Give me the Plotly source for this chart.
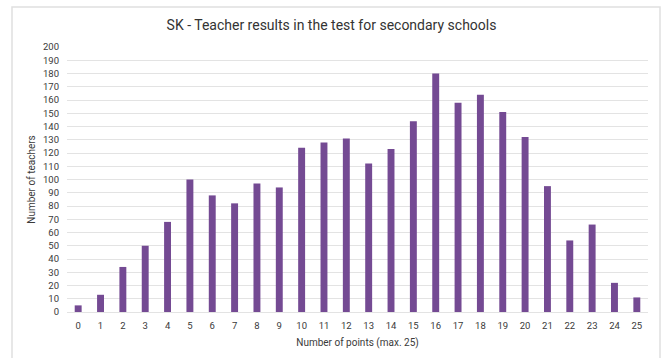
import plotly.graph_objects as go

# Points achieved (0-25) and number of teachers per score
points = [str(i) for i in range(26)]
teachers = [5, 13, 34, 50, 68, 100, 88, 82, 97, 94, 124, 128, 131, 112, 123,
            144, 180, 158, 164, 151, 132, 95, 54, 66, 22, 11]
y_ticks = list(range(0, 201, 10))

W, H = 663, 358
FONT = "Roboto"
TXT = "#3a3a3a"

fig = go.Figure(
    go.Bar(
        x=points,
        y=teachers,
        marker=dict(color="#744A93", line=dict(width=0)),
        hoverinfo="x+y",
    )
)

fig.update_layout(
    width=W,
    height=H,
    margin=dict(l=67, r=15, t=47, b=46),
    paper_bgcolor="white",
    plot_bgcolor="white",
    bargap=0.69,
    showlegend=False,
    font=dict(family=FONT, size=9, color=TXT),
    title=dict(
        text="SK - Teacher results in the test for secondary schools",
        x=0.5,
        xref="container",
        xanchor="center",
        y=1 - 25 / H,
        yref="container",
        yanchor="middle",
        font=dict(family=FONT, size=14, color="#333333"),
    ),
    xaxis=dict(
        type="category",
        showgrid=False,
        showline=False,
        ticks="",
        ticklabelstandoff=6,
        tickfont=dict(size=9.5, color=TXT),
        title=dict(text="Number of points (max. 25)", font=dict(size=10, color=TXT), standoff=9),
    ),
    yaxis=dict(
        range=[0, 200],
        tickvals=y_ticks,
        showgrid=True,
        gridcolor="#e3e3e3",
        gridwidth=1,
        zeroline=True,
        zerolinecolor="#e3e3e3",
        zerolinewidth=1,
        showline=False,
        ticks="",
        ticklabelstandoff=7,
        tickfont=dict(size=9.5, color=TXT),
        title=dict(text="Number of teachers", font=dict(size=10, color=TXT), standoff=5),
    ),
    shapes=[
        # card outline around the chart
        dict(
            type="rect",
            xref="paper",
            yref="paper",
            x0=(12 - 67) / 581,
            x1=(660 - 67) / 581,
            y0=-0.5,
            y1=(312 - 7) / 265,
            line=dict(color="#e0e0e0", width=1.5),
            fillcolor="rgba(0,0,0,0)",
            layer="below",
        )
    ],
)

fig.write_html("out.html")
